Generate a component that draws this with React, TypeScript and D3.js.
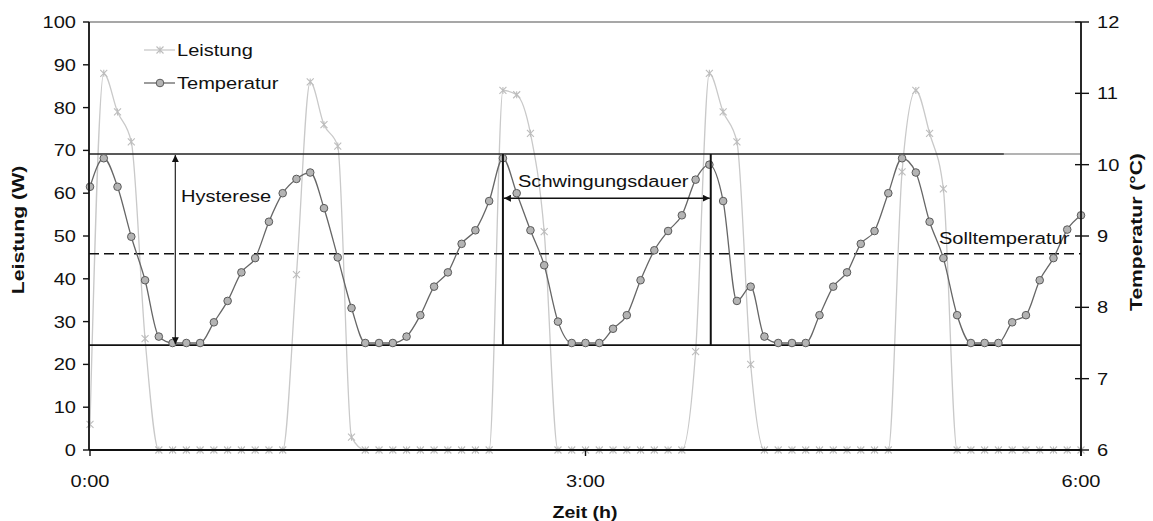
import React from 'react';
import * as d3 from 'd3';

// time axis: one sample every 5 minutes, 0:00 .. 6:00
const timeMin = d3.range(0, 365, 5);

// Leistung (W)
const leistung = [
  6, 88, 79, 72, 26,
  0, 0, 0, 0, 0, 0, 0, 0, 0, 0,
  41, 86, 76, 71, 3,
  0, 0, 0, 0, 0, 0, 0, 0, 0, 0,
  84, 83, 74, 51,
  0, 0, 0, 0, 0, 0, 0, 0, 0, 0,
  23, 88, 79, 72, 20,
  0, 0, 0, 0, 0, 0, 0, 0, 0, 0,
  65, 84, 74, 61,
  0, 0, 0, 0, 0, 0, 0, 0, 0, 0,
];

// Temperatur (°C)
const temperatur = [
  9.69, 10.09, 9.69, 8.99, 8.38, 7.59, 7.5, 7.5, 7.5, 7.79, 8.09, 8.49, 8.69,
  9.2, 9.6, 9.8, 9.89, 9.39, 8.7, 7.99, 7.5, 7.5, 7.5, 7.59, 7.89, 8.29, 8.49,
  8.89, 9.08, 9.49, 10.09, 9.6, 9.08, 8.59, 7.8, 7.5, 7.5, 7.5, 7.7, 7.89, 8.38,
  8.8, 9.07, 9.29, 9.79, 10.0, 9.49, 8.09, 8.29, 7.59, 7.5, 7.5, 7.5, 7.89, 8.29,
  8.49, 8.89, 9.07, 9.6, 10.09, 9.89, 9.2, 8.69, 7.89, 7.5, 7.5, 7.5, 7.79, 7.89,
  8.38, 8.69, 9.09, 9.29,
];

const leftTicks = [0, 10, 20, 30, 40, 50, 60, 70, 80, 90, 100];
const rightTicks = [6, 7, 8, 9, 10, 11, 12];
const xTicks = [0, 180, 360];
const xTickLabels = ['0:00', '3:00', '6:00'];

// annotations (temperature / minutes)
const hystUpper = 10.15;
const hystLower = 7.47;
const sollTemp = 8.75;
const hystArrowTime = 31;
const upperLineDarkEnd = 332;
const periodStart = 150;
const periodEnd = 225.5;
const periodArrowTemp = 9.53;

const W = 1153;
const H = 521;
const FONT = 'Liberation Sans, Arial, Helvetica, sans-serif';
const SX = 1.18;

const x = d3.scaleLinear().domain([0, 360]).range([90, 1081]);
const yW = d3.scaleLinear().domain([0, 100]).range([450, 22]);
const yT = d3.scaleLinear().domain([6, 12]).range([450, 22]);

const Txt = ({ x, y, anchor = 'start', rotate = 0, s = SX, size = 17, bold = false, children }: any) => (
  <text
    transform={`translate(${x},${y}) rotate(${rotate}) scale(${s},1)`}
    textAnchor={anchor}
    fontFamily={FONT}
    fontSize={size}
    fontWeight={bold ? 'bold' : 'normal'}
    fill="#111"
  >
    {children}
  </text>
);

const star = (s: number) => `M${-s},${-s}L${s},${s}M${-s},${s}L${s},${-s}M0,${-s}L0,${s}`;

export default function App() {
  const powerLine = d3.line<number>()
    .x((_, i) => x(timeMin[i]))
    .y((d) => yW(d))
    .curve(d3.curveMonotoneX)(leistung) as string;

  const tempLine = d3.line<number>()
    .x((_, i) => x(timeMin[i]))
    .y((d) => yT(d))
    .curve(d3.curveMonotoneX)(temperatur) as string;

  const x0 = x.range()[0] - 1;
  const x1 = x.range()[1];

  return (
    <svg width={W} height={H} style={{ position: 'absolute', left: 0, top: 0, background: '#fff' }}>
      <defs>
        <marker id="ah" viewBox="0 0 10 10" refX="10" refY="5" markerWidth="7" markerHeight="7" orient="auto-start-reverse" markerUnits="userSpaceOnUse">
          <path d="M0,0L10,5L0,10z" fill="#111" />
        </marker>
      </defs>

      {/* top frame */}
      <line x1={x0} x2={x1} y1={yW(100)} y2={yW(100)} stroke="#8a8a8a" strokeWidth={1.5} />

      {/* power series */}
      <path d={powerLine} fill="none" stroke="#c9c9c9" strokeWidth={1.3} />
      {leistung.map((d, i) => (
        <path key={'p' + i} d={star(3.5)} transform={`translate(${x(timeMin[i])},${yW(d)})`} stroke="#bdbdbd" strokeWidth={1.1} fill="none" />
      ))}

      {/* hysteresis + set point lines */}
      <line x1={x0} x2={x(upperLineDarkEnd)} y1={yT(hystUpper)} y2={yT(hystUpper)} stroke="#222" strokeWidth={1.6} />
      <line x1={x(upperLineDarkEnd)} x2={x1} y1={yT(hystUpper)} y2={yT(hystUpper)} stroke="#9a9a9a" strokeWidth={1.6} />
      <line x1={x0} x2={x1} y1={yT(hystLower)} y2={yT(hystLower)} stroke="#111" strokeWidth={1.6} />
      <line x1={x0} x2={x1} y1={yT(sollTemp)} y2={yT(sollTemp)} stroke="#111" strokeWidth={1.5} strokeDasharray="10,5" />

      {/* temperature series */}
      <path d={tempLine} fill="none" stroke="#666" strokeWidth={1.3} />
      {temperatur.map((d, i) => (
        <circle key={'t' + i} cx={x(timeMin[i])} cy={yT(d)} r={3.8} fill="#b4b4b4" stroke="#5a5a5a" strokeWidth={1} />
      ))}

      {/* Hysterese arrow */}
      <line x1={x(hystArrowTime)} x2={x(hystArrowTime)} y1={yT(hystUpper) + 1} y2={yT(hystLower) - 1} stroke="#333" strokeWidth={1.3} markerStart="url(#ah)" markerEnd="url(#ah)" />
      <Txt x={181} y={202}>Hysterese</Txt>

      {/* Schwingungsdauer */}
      <line x1={x(periodStart)} x2={x(periodStart)} y1={yT(hystUpper)} y2={yT(hystLower)} stroke="#111" strokeWidth={2} />
      <line x1={x(periodEnd)} x2={x(periodEnd)} y1={yT(hystUpper)} y2={yT(hystLower)} stroke="#111" strokeWidth={2} />
      <line x1={x(periodStart) + 1} x2={x(periodEnd) - 1} y1={yT(periodArrowTemp)} y2={yT(periodArrowTemp)} stroke="#111" strokeWidth={1.5} markerStart="url(#ah)" markerEnd="url(#ah)" />
      <Txt x={518} y={187}>Schwingungsdauer</Txt>

      <Txt x={939} y={244}>Solltemperatur</Txt>

      {/* axes */}
      <line x1={x0} x2={x0} y1={yW(100)} y2={yW(0)} stroke="#111" strokeWidth={1.8} />
      <line x1={x1} x2={x1} y1={yT(12)} y2={yT(6) + 6} stroke="#111" strokeWidth={1.8} />
      <line x1={x0} x2={x1} y1={yW(0)} y2={yW(0)} stroke="#111" strokeWidth={1.8} />

      {leftTicks.map((t) => (
        <g key={'l' + t}>
          <line x1={x0 - 6} x2={x0} y1={yW(t)} y2={yW(t)} stroke="#111" strokeWidth={1.4} />
          <Txt x={76} y={yW(t) + 6} anchor="end">{t}</Txt>
        </g>
      ))}
      {rightTicks.map((t) => (
        <g key={'r' + t}>
          <line x1={x1 - 6} x2={x1 + 8} y1={yT(t)} y2={yT(t)} stroke="#111" strokeWidth={1.4} />
          <Txt x={1097} y={yT(t) + 6}>{t}</Txt>
        </g>
      ))}
      {xTicks.map((t, i) => (
        <g key={'x' + t}>
          <line x1={x(t)} x2={x(t)} y1={yW(0)} y2={yW(0) + 6} stroke="#111" strokeWidth={1.4} />
          <Txt x={x(t)} y={487} anchor="middle">{xTickLabels[i]}</Txt>
        </g>
      ))}

      {/* axis titles */}
      <Txt x={24} y={230} rotate={-90} anchor="middle" bold s={1.25}>Leistung (W)</Txt>
      <Txt x={1142} y={232} rotate={-90} anchor="middle" bold s={1.24}>Temperatur (°C)</Txt>
      <Txt x={585} y={518} anchor="middle" bold s={1.15}>Zeit (h)</Txt>

      {/* legend */}
      <line x1={144} x2={175} y1={50} y2={50} stroke="#c9c9c9" strokeWidth={1.3} />
      <path d={star(3.5)} transform="translate(160,50)" stroke="#bdbdbd" strokeWidth={1.1} fill="none" />
      <Txt x={177} y={56}>Leistung</Txt>
      <line x1={144} x2={175} y1={83} y2={83} stroke="#666" strokeWidth={1.3} />
      <circle cx={160} cy={83} r={3.8} fill="#b4b4b4" stroke="#5a5a5a" strokeWidth={1} />
      <Txt x={177} y={89}>Temperatur</Txt>
    </svg>
  );
}
